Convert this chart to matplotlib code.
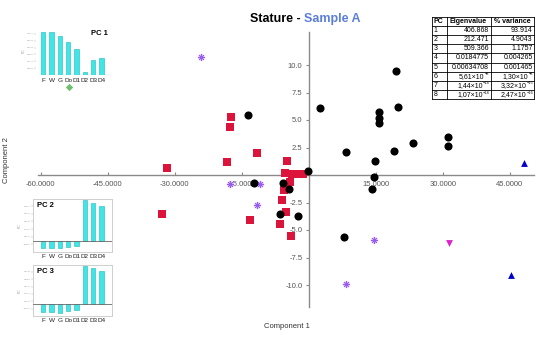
import matplotlib
matplotlib.use("Agg")
import matplotlib.pyplot as plt
import numpy as np

plt.rcParams['font.family'] = ['Liberation Sans', 'DejaVu Sans']

# ---------------- data ----------------
black_x = [-13.5, 2.5, 19.5, 19.9, 15.8, 15.8, 15.7, 8.3, 19.1, 14.8, -0.1, 14.5,
           23.3, 31.2, 31.2, 14.2, -12.2, -5.7, -4.3, -6.4, -2.3, 7.9]
black_y = [5.5, 6.1, 9.5, 6.2, 5.7, 5.15, 4.7, 2.1, 2.2, 1.3, 0.4, -0.15,
           2.9, 2.6, 3.45, -1.3, -0.75, -0.75, -1.3, -3.55, -3.7, -5.6]
red_x = [-17.3, -17.5, -31.8, -18.3, -11.6, -4.9, -5.3, -3.8, -2.7, -1.2,
         -4.2, -5.5, -6.0, -5.1, -32.9, -13.1, -6.4, -4.0]
red_y = [5.25, 4.4, 0.66, 1.2, 2.0, 1.3, 0.15, 0.1, 0.1, 0.1,
         -0.67, -1.4, -2.3, -3.4, -3.55, -4.1, -4.45, -5.55]
star_x = [-24.2, -17.6, -10.9, -11.5, 14.5, 8.3]
star_y = [10.7, -0.85, -0.85, -2.7, -5.9, -9.9]
green_x = [-53.6]
green_y = [8.0]
blue_x = [48.2, 45.3]
blue_y = [1.06, -9.1]
mag_x = [31.5]
mag_y = [-6.15]

xticks = [-60, -45, -30, -15, 15, 30, 45]
yticks = [-10, -7.5, -5, -2.5, 2.5, 5, 7.5, 10]

var_labels = ["F", "W", "G", "Do", "D1", "D2", "D3", "D4"]
pc1 = [0.43, 0.43, 0.39, 0.33, 0.26, 0.03, 0.15, 0.175]
pc2 = [-0.113, -0.113, -0.108, -0.093, -0.079, 0.60, 0.561, 0.516]
pc3 = [-0.130, -0.130, -0.141, -0.115, -0.094, 0.60, 0.569, 0.522]

table_pc = ["1", "2", "3", "4", "5", "6", "7", "8"]
table_eig = ["406.868", "212.471", "509.366", "0.0184775", "0.00634708",
             "5,61×10", "1,44×10", "1,07×10"]
table_eig_exp = ["", "", "", "", "", "−8", "−14", "−14"]
table_var = ["93.914", "4.9043", "1.1757", "0.004265", "0.001465",
             "1,30×10", "3,32×10", "2,47×10"]
table_var_exp = ["", "", "", "", "", "−8", "−15", "−16"]

# ---------------- figure ----------------
W, H = 550, 340
fig = plt.figure(figsize=(5.5, 3.4), dpi=100)

def rect(l, t, r, b):
    return [l / W, 1 - b / H, (r - l) / W, (b - t) / H]

ax = fig.add_axes(rect(38.3, 32, 534.4, 307))
ax.set_xlim(-60.5, 50.5)
ax.set_ylim(-12.0, 13.0)
for s in ['top', 'right']:
    ax.spines[s].set_visible(False)
ax.spines['left'].set_position(('data', 0))
ax.spines['bottom'].set_position(('data', 0))
for s in ['left', 'bottom']:
    ax.spines[s].set_color('#8a8a8a')
    ax.spines[s].set_linewidth(1.0)
ax.set_xticks(xticks)
ax.set_xticklabels(["%.4f" % v for v in xticks])
ax.set_yticks(yticks)
ax.set_yticklabels(["%.1f" % v for v in yticks])
ax.tick_params(axis='x', direction='in', length=2.5, pad=4, labelsize=5.5,
               colors='#8a8a8a', labelcolor='#555555')
ax.tick_params(axis='y', direction='out', length=2.5, pad=2, labelsize=5.5,
               colors='#8a8a8a', labelcolor='#555555')
ax.patch.set_alpha(0)

ax.scatter(red_x, red_y, marker='s', s=26, color='#dc143c', zorder=3, linewidths=0)
ax.scatter(black_x, black_y, marker='o', s=34, color='black', zorder=4, linewidths=0)
ax.scatter(star_x, star_y, marker='o', s=30, color='#d9c4ff', zorder=3, linewidths=0, alpha=0.6)
ax.scatter(star_x, star_y, marker=(8, 2, 0), s=18, color='#9a5cf0', zorder=3, linewidths=0.6)
ax.scatter(green_x, green_y, marker='D', s=14, color='#6cc06c', zorder=3, linewidths=0)
ax.scatter(blue_x, blue_y, marker='^', s=24, color='#0000cc', zorder=3, linewidths=0)
ax.scatter(mag_x, mag_y, marker='v', s=24, color='#dd22cc', zorder=3, linewidths=0)

# overlay in pixel coordinates
ov = fig.add_axes([0, 0, 1, 1])
ov.set_xlim(0, W)
ov.set_ylim(H, 0)
ov.axis('off')
ov.patch.set_alpha(0)

ov.text(301, 19, "Stature -", ha='right', va='center', fontsize=9, fontweight='bold', color='black')
ov.text(304.5, 19, "Sample A", ha='left', va='center', fontsize=9, fontweight='bold', color='#5b7fd9')
ov.text(287, 326, "Component 1", ha='center', va='center', fontsize=5.5, color='#333333')
ov.text(7, 160, "Component 2", ha='center', va='center', fontsize=5.5, color='#333333', rotation=90)

# ---------------- table ----------------
tl, tr = 432, 534
cols = [432, 446.5, 490.5, 534]
ttop, rh = 17, 9.1
nrows = 9
for i in range(nrows + 1):
    y = ttop + i * rh
    ov.plot([tl, tr], [y, y], color='black', lw=0.6)
for c in cols:
    ov.plot([c, c], [ttop, ttop + nrows * rh], color='black', lw=0.6)
fs_t = 5

def cell_num(xr, yc, base, exp):
    if exp:
        ew = 1.9 * len(exp) + 0.5
        ov.text(xr - ew, yc, base, ha='right', va='center', fontsize=fs_t)
        ov.text(xr - ew + 0.3, yc - 1.8, exp, ha='left', va='center', fontsize=2.8)
    else:
        ov.text(xr, yc, base, ha='right', va='center', fontsize=fs_t)

ov.text(cols[0] + 1.5, ttop + rh / 2, "PC", ha='left', va='center', fontsize=fs_t, fontweight='bold')
ov.text((cols[1] + cols[2]) / 2, ttop + rh / 2, "Eigenvalue", ha='center', va='center', fontsize=fs_t, fontweight='bold')
ov.text((cols[2] + cols[3]) / 2, ttop + rh / 2, "% variance", ha='center', va='center', fontsize=fs_t, fontweight='bold')
for i in range(8):
    yc = ttop + (i + 1.5) * rh
    ov.text(cols[0] + 1.5, yc, table_pc[i], ha='left', va='center', fontsize=fs_t)
    cell_num(cols[2] - 1.5, yc, table_eig[i], table_eig_exp[i])
    cell_num(cols[3] - 1.5, yc, table_var[i], table_var_exp[i])

# ---------------- insets ----------------
def inset(vals, l, t, r, b, ylim, label, label_right, frame):
    ia = fig.add_axes(rect(l, t, r, b))
    x = np.arange(len(vals))
    step = 8.33
    ia.set_xlim(-(43.2 - l) / step, (r - 43.2) / step)
    ia.set_ylim(*ylim)
    ia.bar(x, vals, width=0.55, color='#3ee6e6', edgecolor='#1fb8b8', linewidth=0.4, zorder=2)
    ia.axhline(0, color='#666666', lw=0.6, zorder=3)
    ia.set_xticks(x)
    ia.set_xticklabels(var_labels)
    ia.tick_params(axis='x', length=0, pad=1.8, labelsize=4.6, labelcolor='#222222')
    yt = np.linspace(ylim[0], ylim[1], 8)[1:-1]
    ia.set_yticks(yt)
    ia.set_yticklabels(["%.4f" % v for v in yt])
    ia.tick_params(axis='y', length=1.2, width=0.3, pad=0.5, labelsize=1.6,
                   colors='#aaaaaa', labelcolor='#999999')
    for s in ia.spines.values():
        s.set_visible(frame)
        s.set_color('#cfcfcf')
        s.set_linewidth(0.7)
    if label_right:
        ia.text(0.97, 0.93, label, transform=ia.transAxes, ha='right', va='top', fontsize=5.5, fontweight='bold')
    else:
        ia.text(0.05, 0.93, label, transform=ia.transAxes, ha='left', va='top', fontsize=5.5, fontweight='bold')
    ia.set_ylabel("PC", fontsize=2.5, color='#999999', labelpad=1)
    return ia

inset(pc1, 36, 27, 110, 75, (0, 0.48), "PC 1", True, False)
inset(pc2, 33, 198.5, 112, 252, (-0.17, 0.625), "PC 2", False, True)
inset(pc3, 33, 264.5, 112, 316, (-0.19, 0.62), "PC 3", False, True)

fig.savefig("out.png", dpi=100)
